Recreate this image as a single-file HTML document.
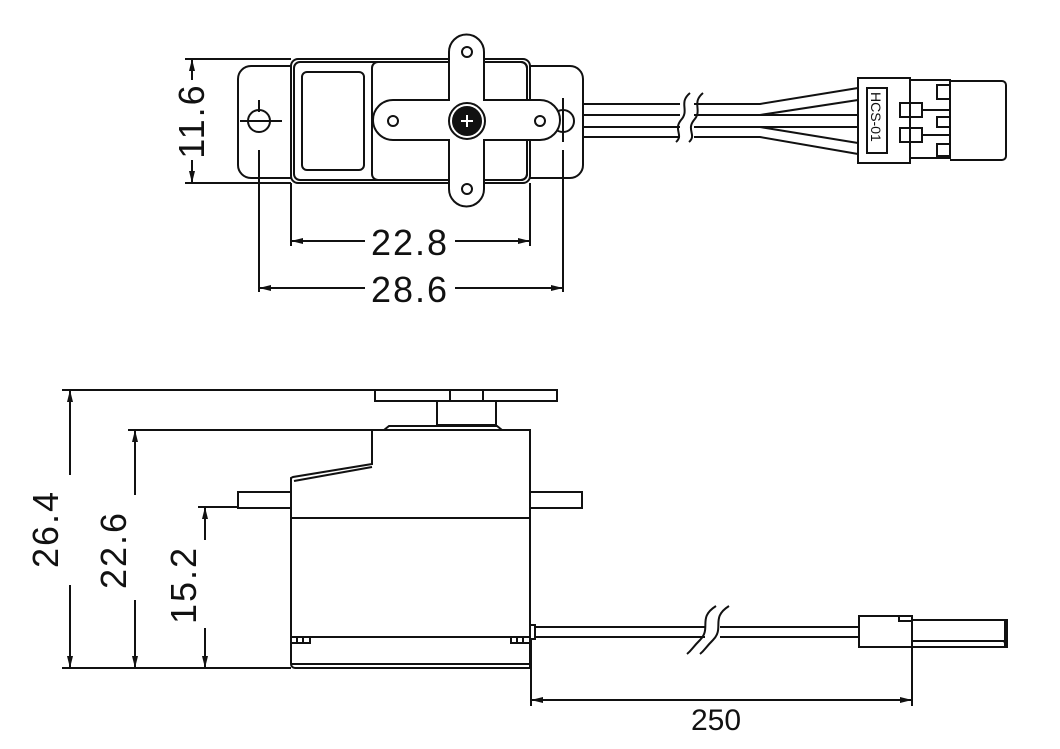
<!DOCTYPE html>
<html><head><meta charset="utf-8"><style>
html,body{margin:0;padding:0;background:#fff;}
svg{display:block;}
text{font-family:"Liberation Sans",sans-serif;fill:#111;}
</style></head><body>
<svg width="1060" height="749" viewBox="0 0 1060 749" xmlns="http://www.w3.org/2000/svg">
<defs>
<marker id="a" viewBox="0 0 12 6" refX="12" refY="3" markerWidth="12" markerHeight="6" orient="auto-start-reverse" markerUnits="userSpaceOnUse"><path d="M0,0 L12,3 L0,6 z" fill="#111"/></marker>
</defs>
<g fill="none" stroke="#111" stroke-width="2">
<rect x="238" y="66" width="345" height="112" rx="13"/>
<rect x="291" y="59" width="239" height="124" rx="7" fill="#fff"/>
<rect x="294" y="62" width="233" height="118" rx="6"/>
<rect x="372" y="62" width="155" height="118" rx="6"/>
<rect x="302" y="72" width="62" height="98" rx="5"/>
<circle cx="259" cy="121" r="11"/>
<line x1="240" y1="121" x2="282" y2="121"/>
<circle cx="563" cy="121" r="11"/>
<path d="M449,100 L449,52 A17.5,17.5 0 0 1 484,52 L484,100 L540,100 A20,20 0 0 1 540,140 L484,140 L484,189 A17.5,17.5 0 0 1 449,189 L449,140 L393,140 A20,20 0 0 1 393,100 Z" fill="#fff"/>
<circle cx="467" cy="52" r="5"/><circle cx="467" cy="189" r="5"/>
<circle cx="393" cy="121" r="5"/><circle cx="540" cy="121" r="5"/>
<circle cx="467" cy="121" r="18" fill="#fff"/>
<circle cx="467" cy="121" r="14" fill="#111"/>
<line x1="461" y1="121" x2="473" y2="121" stroke="#fff"/><line x1="467" y1="115" x2="467" y2="127" stroke="#fff"/>
<line x1="259" y1="100" x2="259" y2="112"/>
<line x1="259" y1="150" x2="259" y2="292"/>
<line x1="563" y1="98" x2="563" y2="142"/>
<line x1="563" y1="150" x2="563" y2="292"/>
<line x1="291" y1="183" x2="291" y2="246"/>
<line x1="530" y1="183" x2="530" y2="246"/>
<line x1="185" y1="59" x2="291" y2="59"/>
<line x1="185" y1="183" x2="291" y2="183"/>
<line x1="192" y1="80" x2="192" y2="59" marker-end="url(#a)"/>
<line x1="192" y1="160" x2="192" y2="183" marker-end="url(#a)"/>
<line x1="291" y1="241" x2="365" y2="241" marker-start="url(#a)"/>
<line x1="455" y1="241" x2="530" y2="241" marker-end="url(#a)"/>
<line x1="259" y1="288" x2="365" y2="288" marker-start="url(#a)"/>
<line x1="455" y1="288" x2="563" y2="288" marker-end="url(#a)"/>
<path d="M583,104 H680 M694,104 H760 L858,88"/>
<path d="M583,115 H680 M694,115 H760 L858,100"/>
<path d="M583,127 H680 M694,127 H760 L858,143"/>
<path d="M583,137 H680 M694,137 H760 L858,154"/>
<path d="M760,115 L858,115 M760,127 L858,127"/>
<path d="M690,93 C678,103 690,110 681,120 C673,130 684,135 676,142"/>
<path d="M703,93 C691,103 703,110 694,120 C686,130 697,135 689,142"/>
<rect x="858" y="78" width="52" height="85"/>
<rect x="867" y="88" width="20" height="65"/>
<path d="M910,80 H950 V158 H910"/>
<path d="M950,81 H1002 A4,4 0 0 1 1006,85 V156 A4,4 0 0 1 1002,160 H950"/>
<rect x="900" y="103" width="22" height="14"/><rect x="900" y="128" width="22" height="14"/>
<path d="M922,110 H950 M922,135 H950"/>
<rect x="937" y="85" width="13" height="14"/><rect x="937" y="117" width="13" height="10"/><rect x="937" y="144" width="13" height="12"/>

<rect x="375" y="390" width="182" height="11"/>
<line x1="450" y1="390" x2="450" y2="401"/><line x1="483" y1="390" x2="483" y2="401"/>
<rect x="437" y="401" width="59" height="24"/>
<path d="M384,430 L389,426 H497 L502,430"/>
<path d="M372,430 H530 V668 H295 A4,4 0 0 1 291,664 V478 L293,477 L372,464 Z" fill="#fff"/>
<line x1="294" y1="481" x2="372" y2="467"/>
<rect x="238" y="492" width="53" height="16"/>
<rect x="530" y="492" width="52" height="16"/>
<line x1="291" y1="518" x2="530" y2="518"/>
<line x1="291" y1="637" x2="530" y2="637"/>
<line x1="291" y1="664" x2="530" y2="664"/>
<path d="M291,637 V643 H310 V637 M297,637 V643 M303,637 V643"/>
<path d="M511,637 V643 H530 M517,637 V643 M523,637 V643"/>
<rect x="530" y="625" width="5" height="14"/>
<path d="M535,627 H705 M720,627 H859 M535,637 H705 M720,637 H859"/>
<path d="M729,606 C710,618 725,628 713,640 C705,648 705,650 700,654"/>
<path d="M716,606 C697,618 712,628 700,640 C692,648 692,650 687,654"/>
<rect x="859" y="616" width="53" height="31"/>
<path d="M912,620 H1007 V647 H912 M912,641 H1004 L1007,647 M1005,620 V647"/>
<rect x="899" y="616" width="13" height="5"/>
<line x1="62" y1="390" x2="375" y2="390"/>
<line x1="62" y1="668" x2="291" y2="668"/>
<line x1="128" y1="430" x2="372" y2="430"/>
<line x1="198" y1="507" x2="238" y2="507"/>
<line x1="70" y1="475" x2="70" y2="390" marker-end="url(#a)"/>
<line x1="70" y1="585" x2="70" y2="668" marker-end="url(#a)"/>
<line x1="135" y1="495" x2="135" y2="430" marker-end="url(#a)"/>
<line x1="135" y1="600" x2="135" y2="668" marker-end="url(#a)"/>
<line x1="205" y1="540" x2="205" y2="507" marker-end="url(#a)"/>
<line x1="205" y1="628" x2="205" y2="668" marker-end="url(#a)"/>
<line x1="531" y1="640" x2="531" y2="706"/>
<line x1="912" y1="647" x2="912" y2="706"/>
<line x1="531" y1="700" x2="912" y2="700" marker-start="url(#a)" marker-end="url(#a)"/>
</g>
<text x="0" y="0" font-size="14" transform="translate(871,92) rotate(90)">HCS-01</text>
<g font-size="36" letter-spacing="2" text-anchor="middle">
<text x="410" y="255">22.8</text>
<text x="410" y="302">28.6</text>
<text transform="translate(204,121) rotate(-90)">11.6</text>
<text transform="translate(58,529) rotate(-90)">26.4</text>
<text transform="translate(126,550) rotate(-90)">22.6</text>
<text transform="translate(196,585) rotate(-90)">15.2</text>
<text x="716" y="730" font-size="30" letter-spacing="0">250</text>
</g>
</svg>
</body></html>
